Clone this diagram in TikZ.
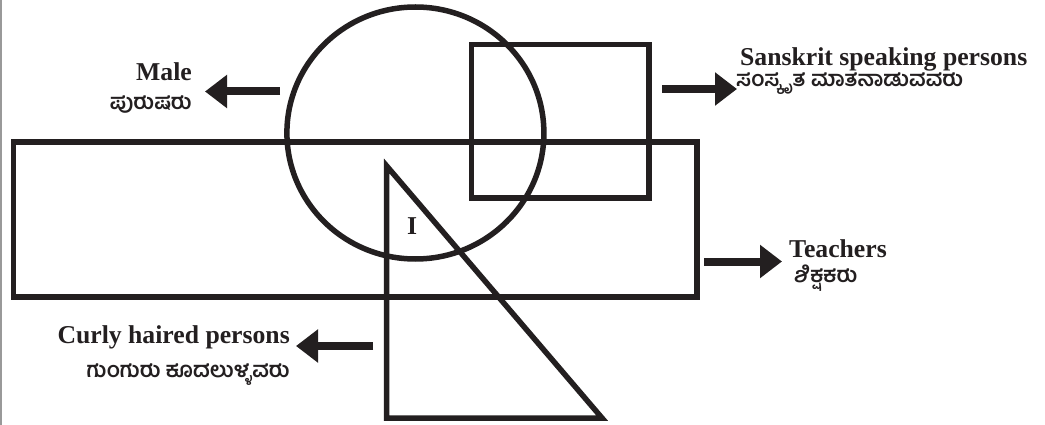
\documentclass[tikz,border=0pt]{standalone}
\usepackage{fontspec}
\setmainfont{Liberation Serif}
\newfontfamily\kn[Script=Kannada]{Hind Mysuru}
\usetikzlibrary{arrows.meta,shapes.geometric}
\definecolor{ink}{HTML}{231F20}
\begin{document}
\begin{tikzpicture}[x=1pt,y=-1pt,
  shapeline/.style={line width=5.5pt, draw=ink, line join=miter},
  arr/.style={line width=8pt, draw=ink, -{Triangle[length=22pt,width=32pt]}},
  en/.style={font=\fontsize{25.7}{30}\selectfont\bfseries, text=ink, inner sep=0pt},
  kan/.style={font=\kn\fontsize{21.5}{25}\selectfont\bfseries, text=ink, inner sep=0pt}]
\useasboundingbox (0,0) rectangle (1045,425);
\fill[white] (0,0) rectangle (1045,425);
\draw[gray!80, line width=1.5pt] (1,0) -- (1,425);
% shapes
\node (teach) [rectangle, shapeline, minimum width=683.3pt, minimum height=155pt, inner sep=0pt] at (355.35,219.5) {};
\node (male) [ellipse, shapeline, minimum width=257pt, minimum height=252pt, inner sep=0pt] at (415.4,133) {};
\node (sansk) [rectangle, shapeline, minimum width=177.3pt, minimum height=153.5pt, inner sep=0pt] at (560.1,121.25) {};
\coordinate (tA) at (386.7,166);
\coordinate (tB) at (386.7,418);
\coordinate (tC) at (602,418);
\draw[shapeline] (tA) -- (tB) -- (tC) -- cycle;
\node (I) [en, anchor=base] at (412,234) {I};
% labels
\node (maleE) [en, anchor=base east] at (192,81) {Male};
\node (maleK) [kan, anchor=base east] at (192,110) {ಪುರುಷರು};
\node (sanE) [en, anchor=base west] at (740,66) {Sanskrit speaking persons};
\node (sanK) [kan, anchor=base west] at (736,87) {ಸಂಸ್ಕೃತ ಮಾತನಾಡುವವರು};
\node (teaE) [en, anchor=base west] at (789,258) {Teachers};
\node (teaK) [kan, anchor=base west] at (794,282) {ಶಿಕ್ಷಕರು};
\node (curE) [en, anchor=base east] at (290,343) {Curly haired persons};
\node (curK) [kan, anchor=base east] at (290,377) {ಗುಂಗುರು ಕೂದಲುಳ್ಳವರು};
% arrows
\coordinate (m1) at (280,91.5); \coordinate (m2) at (205,91.5);
\coordinate (s1) at (662,89); \coordinate (s2) at (737,89);
\coordinate (t1) at (704,261.5); \coordinate (t2) at (782,261.5);
\coordinate (c1) at (373,346); \coordinate (c2) at (296,346);
\draw[arr] (m1) -- (m2);
\draw[arr] (s1) -- (s2);
\draw[arr] (t1) -- (t2);
\draw[arr] (c1) -- (c2);
\end{tikzpicture}
\end{document}
